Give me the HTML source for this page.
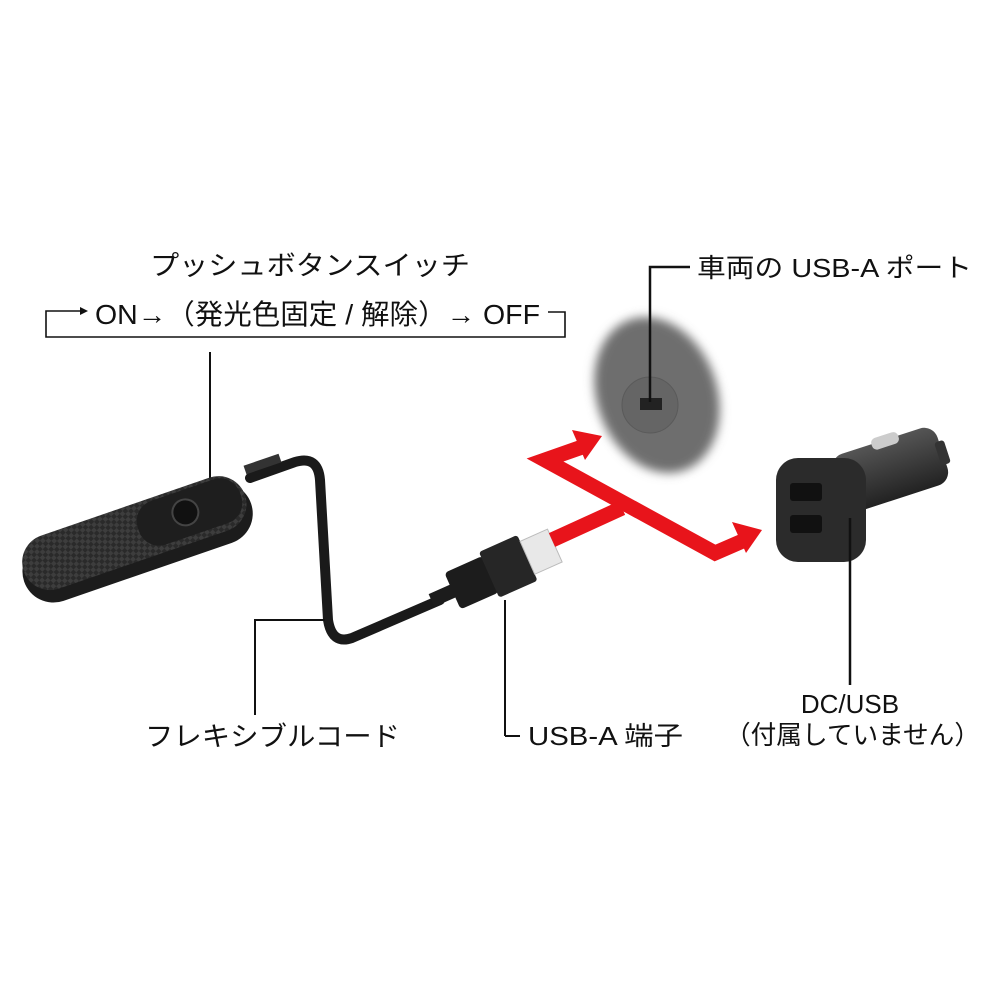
<!DOCTYPE html>
<html><head><meta charset="utf-8"><style>
html,body{margin:0;padding:0;background:#fff}
svg{display:block}
text{font-family:"Liberation Sans","Noto Sans CJK JP",sans-serif;fill:#111}
</style></head><body>
<svg width="1000" height="1000" viewBox="0 0 1000 1000" xmlns="http://www.w3.org/2000/svg">
<defs>
<filter id="bl" x="-30%" y="-30%" width="160%" height="160%"><feGaussianBlur stdDeviation="5"/></filter>
<pattern id="cf" width="8" height="8" patternUnits="userSpaceOnUse" patternTransform="rotate(-25)">
<rect width="8" height="8" fill="#2a2a2a"/><rect width="4" height="4" fill="#3d3d3d"/><rect x="4" y="4" width="4" height="4" fill="#3d3d3d"/></pattern>
<linearGradient id="cg" x1="0" y1="0" x2="0" y2="1"><stop offset="0" stop-color="#555"/><stop offset="1" stop-color="#222"/></linearGradient>
</defs>

<text x="150" y="275" font-size="27" textLength="320" lengthAdjust="spacingAndGlyphs">プッシュボタンスイッチ</text>
<text x="95" y="324" font-size="28" textLength="445" lengthAdjust="spacingAndGlyphs">ON→（発光色固定 / 解除）→ OFF</text>
<polyline points="80,311 46,311 46,337 565,337 565,312 548,312" fill="none" stroke="#111" stroke-width="1.6"/>
<polygon points="80,307 88,311 80,315" fill="#111"/>
<line x1="210" y1="352" x2="210" y2="492" stroke="#111" stroke-width="2"/>

<path d="M250,478 L295,462 Q318,455 320,480 L328,620 Q332,645 352,638 L440,600" fill="none" stroke="#1a1a1a" stroke-width="10" stroke-linecap="round"/>
<path d="M245,470 L280,458" stroke="#333" stroke-width="9"/>
<g transform="rotate(-19 135 535)">
<rect x="15" y="512" width="240" height="62" rx="31" fill="#1c1c1c"/>
<rect x="18" y="505" width="234" height="56" rx="28" fill="url(#cf)"/>
<rect x="140" y="508" width="108" height="46" rx="21" fill="#1e1e1e"/>
<circle cx="190" cy="530" r="13" fill="#111" stroke="#444" stroke-width="2"/>
</g>
<g transform="rotate(-24 500 570)">
<rect x="425" y="563" width="28" height="14" fill="#1c1c1c"/>
<rect x="448" y="550" width="42" height="40" rx="4" fill="#1c1c1c"/>
<rect x="488" y="545" width="42" height="50" rx="3" fill="#262626"/>
<rect x="530" y="552" width="30" height="36" fill="#e8e8e8" stroke="#bbb"/>
</g>
<line x1="505" y1="600" x2="505" y2="736" stroke="#111" stroke-width="2"/>
<line x1="505" y1="736" x2="520" y2="736" stroke="#111" stroke-width="2"/>
<text x="528" y="745" font-size="26" textLength="155" lengthAdjust="spacingAndGlyphs">USB-A 端子</text>

<polyline points="325,620 255,620 255,715" fill="none" stroke="#111" stroke-width="2"/>
<text x="145" y="746" font-size="27" textLength="255" lengthAdjust="spacingAndGlyphs">フレキシブルコード</text>

<ellipse cx="657" cy="395" rx="60" ry="80" transform="rotate(-20 657 395)" fill="#6e6e6e" filter="url(#bl)"/>
<circle cx="650" cy="405" r="28" fill="#656565" stroke="#5a5a5a"/>
<rect x="640" y="398" width="22" height="12" fill="#222"/>
<polyline points="690,267 650,267 650,402" fill="none" stroke="#111" stroke-width="2.5"/>
<text x="697" y="277" font-size="26" textLength="275" lengthAdjust="spacingAndGlyphs">車両の USB-A ポート</text>

<g stroke="#e8141b" stroke-width="15" fill="none" stroke-linejoin="miter">
<polyline points="585,446 545,460 715,553 745,540"/>
<line x1="552" y1="540" x2="622" y2="508"/>
</g>
<polygon points="602,436 572,430 585,460" fill="#e8141b"/>
<polygon points="762,530 732,522 746,553" fill="#e8141b"/>

<g transform="rotate(-18 860 490)">
<rect x="840" y="450" width="110" height="60" rx="14" fill="url(#cg)"/>
<rect x="945" y="468" width="10" height="24" rx="3" fill="#333"/>
<rect x="885" y="445" width="28" height="12" rx="5" fill="#ccc"/>
</g>
<rect x="776" y="458" width="90" height="104" rx="22" fill="#2b2b2b"/>
<rect x="790" y="483" width="32" height="18" rx="3" fill="#111"/>
<rect x="790" y="515" width="32" height="18" rx="3" fill="#111"/>
<line x1="850" y1="518" x2="850" y2="685" stroke="#111" stroke-width="2.5"/>
<text x="850" y="713" font-size="26" text-anchor="middle">DC/USB</text>
<text x="725" y="744" font-size="26" textLength="255" lengthAdjust="spacingAndGlyphs">（付属していません）</text>
</svg>
</body></html>
